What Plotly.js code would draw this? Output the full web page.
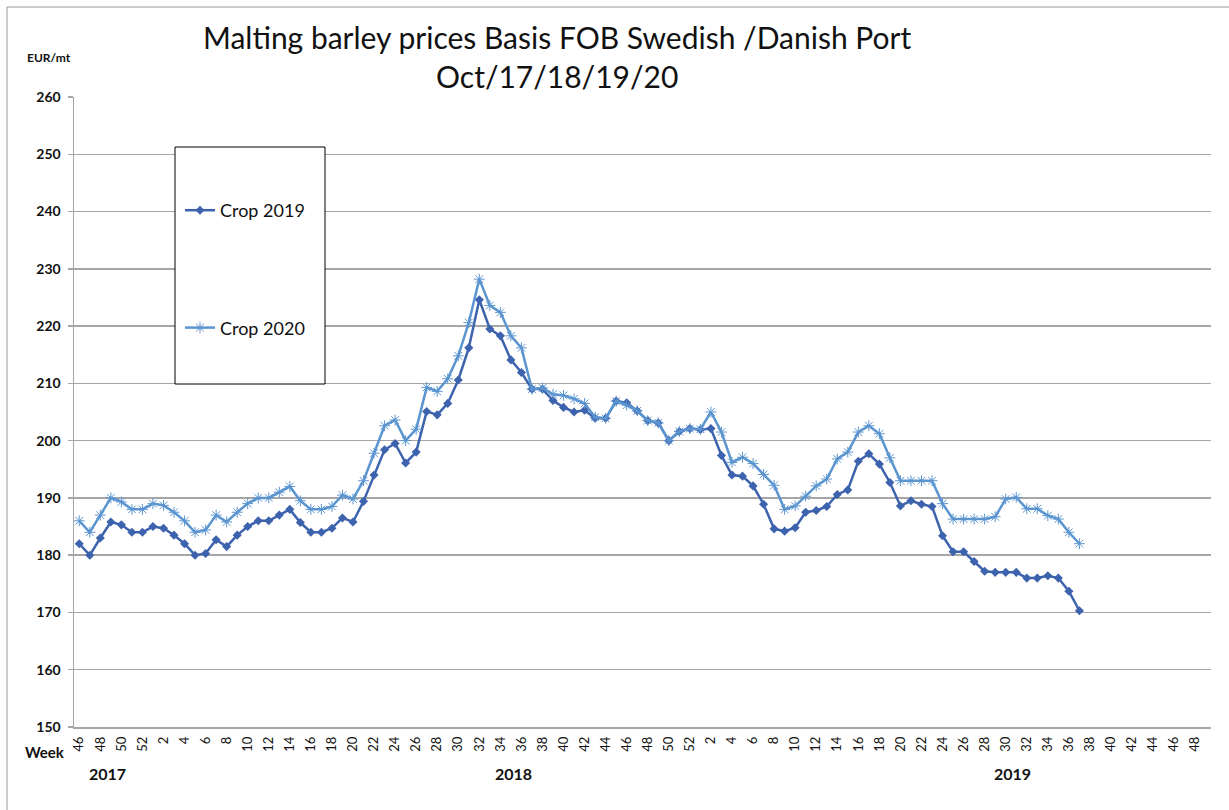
<!DOCTYPE html>
<html>
<head>
<meta charset="utf-8">
<script src="https://cdn.plot.ly/plotly-3.0.1.min.js"></script>
<style>html,body{margin:0;padding:0;background:#fff;}#chart{width:1229px;height:810px;}</style>
</head>
<body>
<div id="chart"></div>
<script>
// Week numbers on the category axis
const weeks2017 = [46,47,48,49,50,51,52];
const weeks2018 = [1,2,3,4,5,6,7,8,9,10,11,12,13,14,15,16,17,18,19,20,21,22,23,24,25,26,27,28,29,30,31,32,33,34,35,36,37,38,39,40,41,42,43,44,45,46,47,48,49,50,51,52];
const weeks2019 = [1,2,3,4,5,6,7,8,9,10,11,12,13,14,15,16,17,18,19,20,21,22,23,24,25,26,27,28,29,30,31,32,33,34,35,36,37,38,39,40,41,42,43,44,45,46,47,48,49];
const yearLabels = ["2017","2018","2019"];
const titleLines = ["Malting barley prices Basis FOB Swedish /Danish Port", "Oct/17/18/19/20"];

// Prices, EUR/mt, weekly from week 46/2017
const crop2019 = [182,180,183,185.8,185.3,184,184,185,184.7,183.5,182,180,180.3,182.7,181.5,183.5,185,186,186,187,188,185.7,184,184,184.7,186.5,185.8,189.4,194,198.4,199.5,196.1,198,205.1,204.5,206.5,210.6,216.2,224.6,219.5,218.3,214.1,211.9,209,209,207,205.8,205,205.3,203.9,203.9,206.9,206.6,205.2,203.5,203.1,200,201.6,202.1,201.9,202.1,197.4,194,193.8,192.1,188.9,184.6,184.2,184.8,187.5,187.8,188.5,190.6,191.4,196.4,197.7,195.9,192.7,188.6,189.5,188.9,188.5,183.4,180.6,180.6,178.9,177.2,177,177,177,176,176,176.4,176,173.7,170.3];
const crop2020 = [186,184,187,190,189.3,188,188,189,188.7,187.5,186,184,184.4,187,185.8,187.5,189,190,190,191,192,189.5,188,188,188.5,190.5,189.8,193,197.8,202.6,203.6,200,202,209.3,208.6,210.8,214.8,220.6,228.2,223.6,222.4,218.3,216.2,209,209.2,208.1,207.9,207.3,206.5,204.1,203.9,206.9,206.2,205.2,203.5,203.1,200,201.6,202.1,202,205,201.5,196.2,197.1,196,194.1,192.2,188,188.6,190.3,192.1,193.3,196.8,198,201.5,202.6,201.2,197,193,193,193,193,189,186.3,186.3,186.3,186.3,186.7,189.8,190.1,188.1,188.1,186.9,186.3,184,182];

const keys = [].concat(
  weeks2017.map(w => "2017-" + w),
  weeks2018.map(w => "2018-" + w),
  weeks2019.map(w => "2019-" + w)
);
const weekText = [].concat(weeks2017, weeks2018, weeks2019).map(String);
const tickvals = keys.filter((k, i) => i % 2 === 0);
const ticktext = weekText.filter((k, i) => i % 2 === 0);
const pad = arr => keys.map((k, i) => i < arr.length ? arr[i] : null);

const W = 1229, H = 810;
const L = 74, R = 1211, T = 97, B = 727;
const px = x => (x - L) / (R - L);
const py = y => (B - y) / (B - T);

const FONT = "Lato, 'Open Sans', 'Liberation Sans', sans-serif";

const traces = [
  {
    name: "Crop 2019", x: keys, y: pad(crop2019), type: "scatter", mode: "lines+markers",
    line: {color: "#3D63AE", width: 2.5},
    marker: {symbol: "diamond", size: 7, color: "#3D63AE"},
    legendgroup: "a", connectgaps: false
  },
  {
    name: "Crop 2020", x: keys, y: pad(crop2020), type: "scatter", mode: "lines+markers",
    line: {color: "#5B95D0", width: 2.5},
    marker: {symbol: "asterisk-open", size: 9, color: "#5B95D0", line: {color: "#5B95D0", width: 1}},
    legendgroup: "b", connectgaps: false
  }
];

const ann = (text, x, y, size, extra) => Object.assign({
  text: text, xref: "paper", yref: "paper", x: px(x), y: py(y), showarrow: false,
  font: {family: FONT, size: size, color: "#111"}, xanchor: "center", yanchor: "middle"
}, extra || {});

const layout = {
  width: W, height: H,
  margin: {l: L, r: W - R, t: T, b: H - B, pad: 0},
  paper_bgcolor: "#ffffff", plot_bgcolor: "#ffffff",
  font: {family: FONT, color: "#000"},
  xaxis: {
    type: "category", categoryorder: "array", categoryarray: keys,
    range: [-0.5, keys.length - 0.5],
    tickmode: "array", tickvals: tickvals, ticktext: ticktext,
    tickangle: -90, tickfont: {family: FONT, size: 13, color: "#111"},
    showgrid: false, zeroline: false,
    showline: true, linecolor: "#A6A6A6", linewidth: 1.5,
    ticks: "", ticklabelstandoff: 3
  },
  yaxis: {
    range: [150, 260], dtick: 10, tick0: 150,
    tickfont: {family: FONT, size: 14, color: "#111", weight: "bold"},
    showgrid: true, gridcolor: "#A6A6A6", gridwidth: 1.5,
    zeroline: false, showline: true, linecolor: "#A6A6A6", linewidth: 1.5,
    ticks: "outside", ticklen: 5, tickcolor: "#A6A6A6", tickwidth: 1.5,
    ticklabelstandoff: 4
  },
  showlegend: true,
  legend: {
    x: px(180), y: py(192), xanchor: "left", yanchor: "top",
    bgcolor: "rgba(0,0,0,0)", borderwidth: 0,
    font: {family: FONT, size: 18, color: "#111"},
    traceorder: "grouped", tracegroupgap: 91,
    itemwidth: 30
  },
  shapes: [
    {type: "rect", xref: "paper", yref: "paper",
     x0: px(175), x1: px(325), y0: py(384), y1: py(147),
     line: {color: "#000", width: 1}, fillcolor: "#ffffff", layer: "above"},
    {type: "rect", xref: "paper", yref: "paper",
     x0: px(7), x1: px(1240), y0: py(830), y1: py(7),
     line: {color: "#9A9A9A", width: 1}, fillcolor: "rgba(0,0,0,0)", layer: "below"}
  ],
  annotations: [
    ann(titleLines[0], 557, 37, 30),
    ann(titleLines[1], 557, 76, 30),
    ann("<b>EUR/mt</b>", 49, 57, 12),
    ann("<b>Week</b>", 45, 752, 15),
    ann("<b>" + yearLabels[0] + "</b>", 107, 773, 16),
    ann("<b>" + yearLabels[1] + "</b>", 513, 773, 16),
    ann("<b>" + yearLabels[2] + "</b>", 1012, 773, 16)
  ]
};

Plotly.newPlot("chart", traces, layout, {displayModeBar: false, staticPlot: true});
</script>
</body>
</html>
